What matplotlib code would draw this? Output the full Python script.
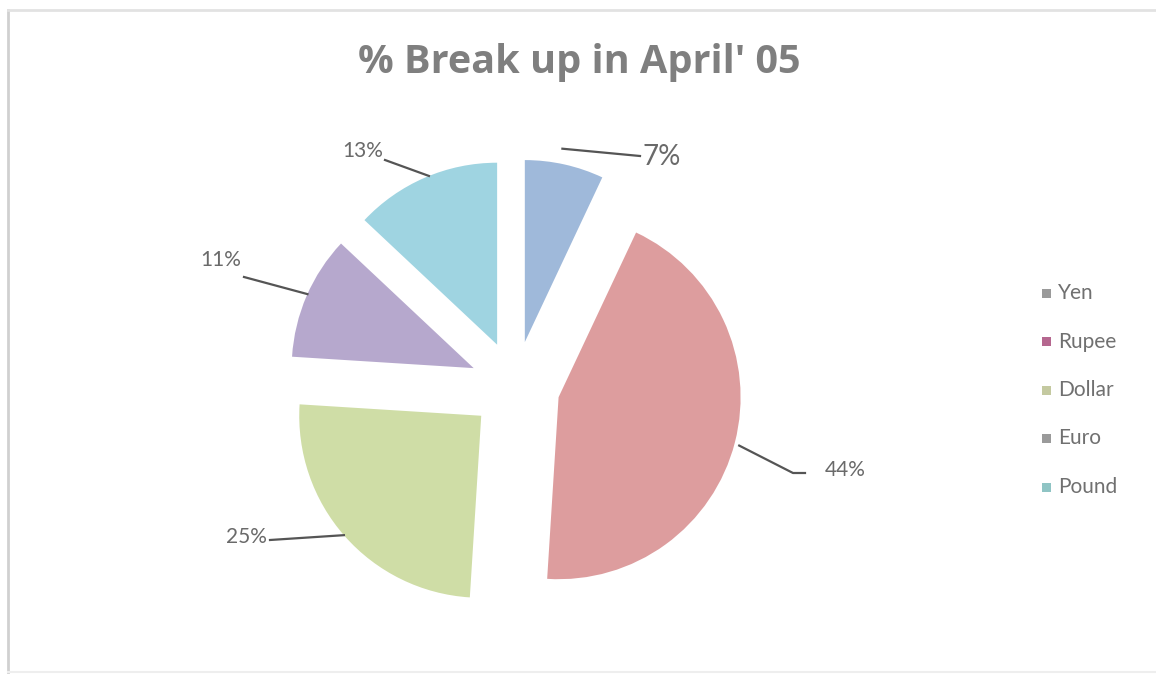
import numpy as np
import matplotlib.pyplot as plt
from matplotlib.patches import Rectangle

W, H = 1156, 679

currencies = ["Yen", "Rupee", "Dollar", "Euro", "Pound"]
shares = [7, 44, 25, 11, 13]
pct_labels = ["7%", "44%", "25%", "11%", "13%"]

colors = ["#9fb9da", "#dd9d9e", "#cfdda6", "#b6a8cd", "#9fd4e1"]
legend_colors = ["#9a9a9a", "#b5678f", "#c4c9a0", "#9a9a9a", "#8fc4c4"]

# label text position (pixels), leader line anchor angle on the arc (deg), gap from arc
label_pos = [(643, 157), (825, 470), (267, 537), (241, 260), (383, 151)]
anchor_ang = [79, -15, -139, 156, 112]
anchor_gap = [15, 5, 0, 0, 0]
elbow = [(640, 156), (805, 473), (270, 540), (244, 277), (385, 160)]
label_size = [20, 15, 15, 15, 15]

cx, cy, r = 515, 386, 182
explode = 45


def Y(y):
    return H - y


fig = plt.figure(figsize=(W / 100, H / 100), dpi=100)
ax = fig.add_axes([0, 0, 1, 1])

wedges, _ = ax.pie(shares, colors=colors, startangle=90, counterclock=False,
                   explode=[explode] * len(shares), radius=r, center=(cx, Y(cy)),
                   wedgeprops=dict(linewidth=0))
ax.set_xlim(0, W)
ax.set_ylim(0, H)
ax.set_aspect("equal")
ax.axis("off")

# chart frame
ax.plot([8, 8], [Y(672), Y(10)], color="#d0d0d0", lw=2)
ax.plot([8, W], [Y(10), Y(10)], color="#e2e2e2", lw=2)
ax.plot([8, W], [Y(672), Y(672)], color="#eeeeee", lw=1.5)

ax.text(579, Y(62), "% Break up in April' 05", ha="center", va="center",
        fontsize=28.5, fontweight="bold", color="#7f7f7f", family="Open Sans")

for w, lab, pos, ang, gap, elb, fs in zip(wedges, pct_labels, label_pos, anchor_ang,
                                          anchor_gap, elbow, label_size):
    wx, wy = w.center
    a = np.deg2rad(ang)
    px = wx + (w.r + gap) * np.cos(a)
    py = wy + (w.r + gap) * np.sin(a)
    xs = [px, elb[0]]
    ys = [py, Y(elb[1])]
    if lab == "44%":
        xs = [px, 793, elb[0]]
        ys = [py, Y(elb[1]), Y(elb[1])]
    ax.plot(xs, ys, color="#555555", lw=1.6)
    ha = "right" if pos[0] < elb[0] else "left"
    ax.text(pos[0], Y(pos[1]), lab, ha=ha, va="center", fontsize=fs,
            color="#6a6a6a", family="Lato")

# legend
for i, (name, c) in enumerate(zip(currencies, legend_colors)):
    ly = 293 + i * 48.5
    ax.add_patch(Rectangle((1042, Y(ly) - 4.5), 9, 9, color=c, lw=0))
    ax.text(1058, Y(ly), name, ha="left", va="center", fontsize=15,
            color="#707070", family="Lato")

fig.savefig("out.png", dpi=100, facecolor="white")
